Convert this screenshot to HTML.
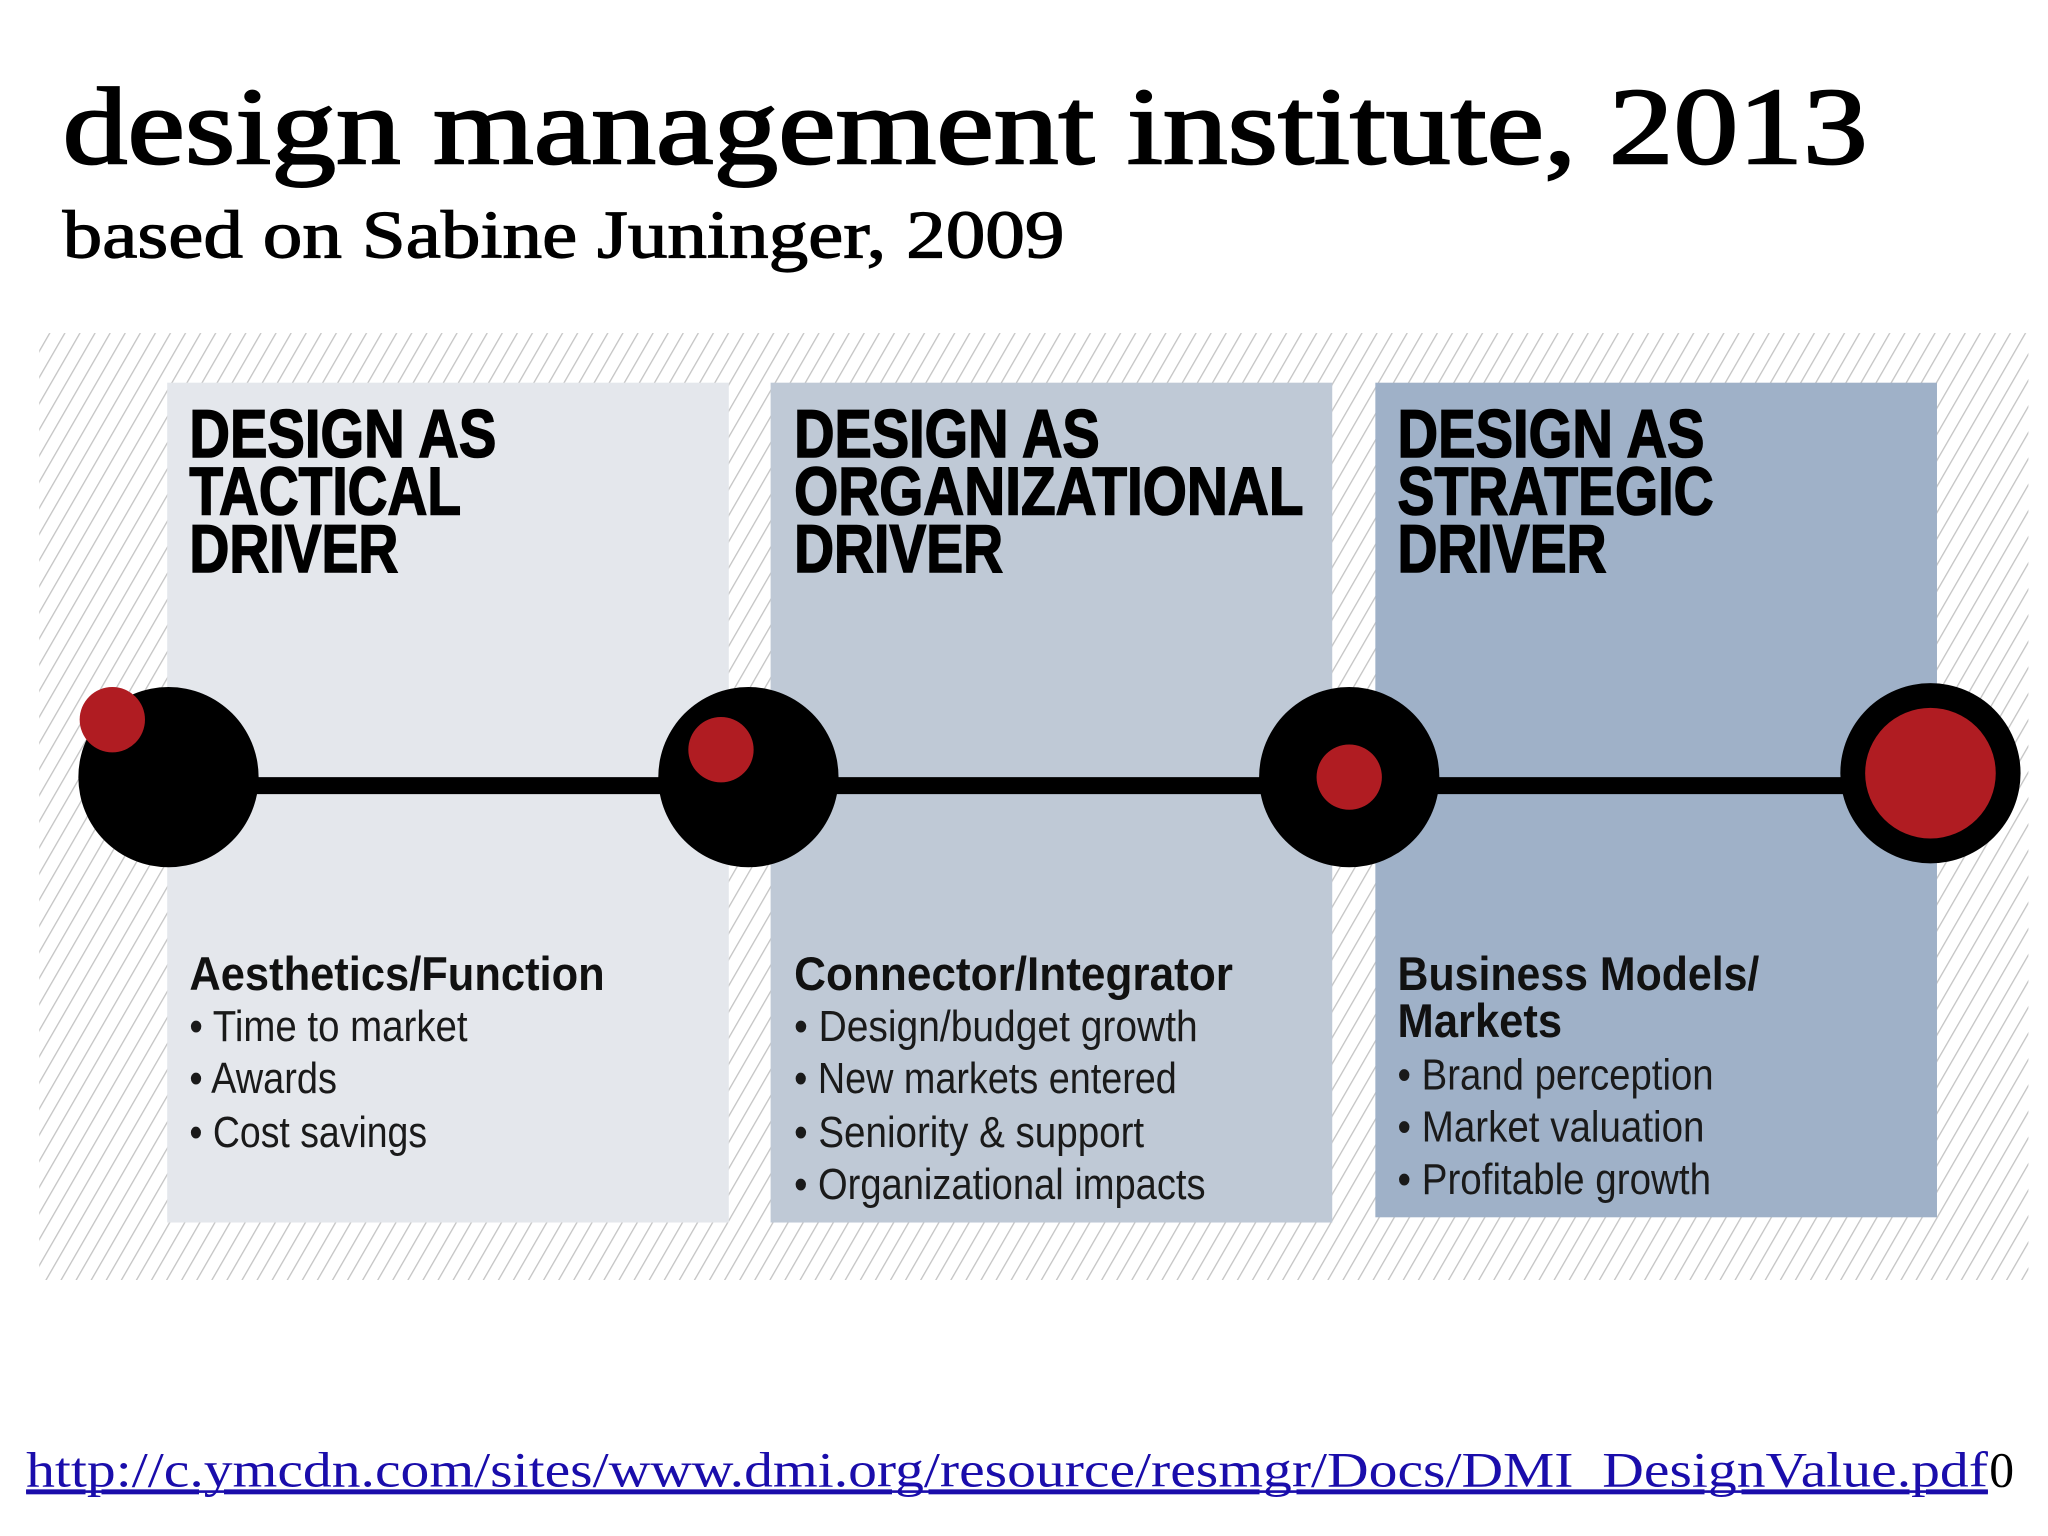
<!DOCTYPE html>
<html><head><meta charset="utf-8"><style>
html,body{margin:0;padding:0;background:#fff;width:2048px;height:1536px;overflow:hidden}
svg{display:block}
.serif{font-family:"Liberation Serif","DejaVu Serif",serif}
.head{font-family:"Liberation Sans Narrow","Liberation Sans",sans-serif;font-weight:bold;fill:#000;stroke:#000;stroke-width:1.2}
.sub{font-family:"Liberation Sans Narrow","Liberation Sans",sans-serif;font-weight:bold;fill:#111}
.bul{font-family:"Liberation Sans Narrow","Liberation Sans",sans-serif;fill:#1a1a1a}
</style></head><body>
<svg width="2048" height="1536" viewBox="0 0 1568 1176" xmlns="http://www.w3.org/2000/svg">
<defs>
<pattern id="hatch" width="10" height="10" patternUnits="userSpaceOnUse" patternTransform="rotate(30)">
<rect width="10" height="10" fill="#fff"/>
<line x1="0" y1="0" x2="0" y2="10" stroke="#c4c4c4" stroke-width="2"/>
</pattern>
</defs>
<text class="serif" x="48" y="125" font-size="84" fill="#000" stroke="#000" stroke-width="1.6" textLength="1382" lengthAdjust="spacingAndGlyphs">design management institute, 2013</text>
<text class="serif" x="48" y="197" font-size="52" fill="#000" stroke="#000" stroke-width="0.9" textLength="767" lengthAdjust="spacingAndGlyphs">based on Sabine Juninger, 2009</text>

<rect x="30" y="255" width="1523" height="725" fill="url(#hatch)"/>
<rect x="128" y="293" width="430" height="643" fill="#e4e7ec"/>
<rect x="590" y="293" width="430" height="643" fill="#bfc9d6"/>
<rect x="1053" y="293" width="430" height="639" fill="#9fb1c8"/>

<g>
<text class="head" x="145" y="350" font-size="52" textLength="235" lengthAdjust="spacingAndGlyphs">DESIGN AS</text>
<text class="head" x="145" y="394" font-size="52" textLength="208" lengthAdjust="spacingAndGlyphs">TACTICAL</text>
<text class="head" x="145" y="438" font-size="52" textLength="160" lengthAdjust="spacingAndGlyphs">DRIVER</text>
</g>
<g>
<text class="head" x="608" y="350" font-size="52" textLength="234" lengthAdjust="spacingAndGlyphs">DESIGN AS</text>
<text class="head" x="608" y="394" font-size="52" textLength="390" lengthAdjust="spacingAndGlyphs">ORGANIZATIONAL</text>
<text class="head" x="608" y="438" font-size="52" textLength="160" lengthAdjust="spacingAndGlyphs">DRIVER</text>
</g>
<g>
<text class="head" x="1070" y="350" font-size="52" textLength="235" lengthAdjust="spacingAndGlyphs">DESIGN AS</text>
<text class="head" x="1070" y="394" font-size="52" textLength="242" lengthAdjust="spacingAndGlyphs">STRATEGIC</text>
<text class="head" x="1070" y="438" font-size="52" textLength="160" lengthAdjust="spacingAndGlyphs">DRIVER</text>
</g>

<rect x="128" y="595" width="1350" height="13" fill="#000"/>
<circle cx="129" cy="595" r="69" fill="#000"/>
<circle cx="86" cy="551" r="25" fill="#b01c22"/>
<circle cx="573" cy="595" r="69" fill="#000"/>
<circle cx="552" cy="574" r="25" fill="#b01c22"/>
<circle cx="1033" cy="595" r="69" fill="#000"/>
<circle cx="1033" cy="595" r="25" fill="#b01c22"/>
<circle cx="1478" cy="592" r="69" fill="#000"/>
<circle cx="1478" cy="592" r="50" fill="#b01c22"/>

<g>
<text class="sub" x="145" y="758" font-size="36" textLength="318" lengthAdjust="spacingAndGlyphs">Aesthetics/Function</text>
<text class="bul" x="145" y="797" font-size="33" textLength="213" lengthAdjust="spacingAndGlyphs">• Time to market</text>
<text class="bul" x="145" y="837" font-size="33" textLength="113" lengthAdjust="spacingAndGlyphs">• Awards</text>
<text class="bul" x="145" y="878" font-size="33" textLength="182" lengthAdjust="spacingAndGlyphs">• Cost savings</text>
</g>
<g>
<text class="sub" x="608" y="758" font-size="36" textLength="336" lengthAdjust="spacingAndGlyphs">Connector/Integrator</text>
<text class="bul" x="608" y="797" font-size="33" textLength="309" lengthAdjust="spacingAndGlyphs">• Design/budget growth</text>
<text class="bul" x="608" y="837" font-size="33" textLength="293" lengthAdjust="spacingAndGlyphs">• New markets entered</text>
<text class="bul" x="608" y="878" font-size="33" textLength="268" lengthAdjust="spacingAndGlyphs">• Seniority &amp; support</text>
<text class="bul" x="608" y="918" font-size="33" textLength="315" lengthAdjust="spacingAndGlyphs">• Organizational impacts</text>
</g>
<g>
<text class="sub" x="1070" y="758" font-size="36" textLength="277" lengthAdjust="spacingAndGlyphs">Business Models/</text>
<text class="sub" x="1070" y="794" font-size="36" textLength="126" lengthAdjust="spacingAndGlyphs">Markets</text>
<text class="bul" x="1070" y="834" font-size="33" textLength="242" lengthAdjust="spacingAndGlyphs">• Brand perception</text>
<text class="bul" x="1070" y="874" font-size="33" textLength="235" lengthAdjust="spacingAndGlyphs">• Market valuation</text>
<text class="bul" x="1070" y="914" font-size="33" textLength="240" lengthAdjust="spacingAndGlyphs">• Profitable growth</text>
</g>

<text class="serif" x="20" y="1138" font-size="38" fill="#1a0dab" text-decoration="underline" textLength="1502" lengthAdjust="spacingAndGlyphs">http://c.ymcdn.com/sites/www.dmi.org/resource/resmgr/Docs/DMI_DesignValue.pdf</text>
<rect x="20" y="1141" width="1502" height="2" fill="#1a0dab"/>
<text class="serif" x="1523" y="1138" font-size="38" fill="#000">0</text>
</svg>
</body></html>
